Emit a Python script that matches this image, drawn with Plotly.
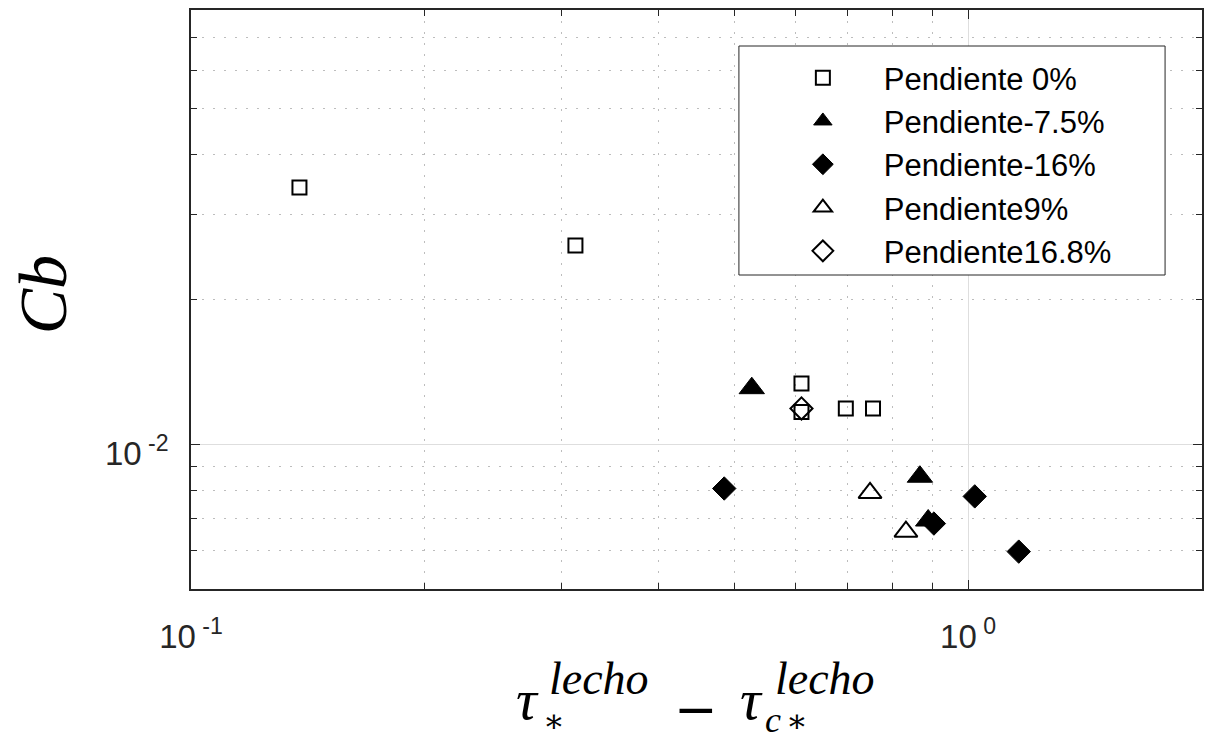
import plotly.graph_objects as go

# Measured points, one list pair per bed slope
sq_x = [0.1379, 0.3124, 0.6104, 0.6104, 0.6961, 0.7545]
sq_y = [0.0342, 0.0259, 0.01338, 0.01167, 0.01187, 0.01187]
tri_x = [0.5268, 0.8670, 0.8885]
tri_y = [0.01308, 0.00856, 0.00694]
dia_x = [0.4855, 0.9037, 1.020, 1.162]
dia_y = [0.00809, 0.00684, 0.00779, 0.00598]
otri_x = [0.7479, 0.8318]
otri_y = [0.00792, 0.00658]
odia_x = [0.6104]
odia_y = [0.01187]

series_names = ["Pendiente 0%", "Pendiente-7.5%", "Pendiente-16%", "Pendiente9%", "Pendiente16.8%"]

x_tick_vals = [0.1, 1]
x_tick_text = ["10<sup>\u00a0-1</sup>", "10<sup>\u00a00</sup>"]
y_tick_vals = [0.01]
y_tick_text = ["10<sup>\u00a0-2</sup>"]
x_minor = [0.2, 0.3, 0.4, 0.5, 0.6, 0.7, 0.8, 0.9, 2]
y_minor = [0.005, 0.006, 0.007, 0.008, 0.009, 0.02, 0.03, 0.04, 0.05, 0.06, 0.07, 0.08]

W, H = 1207, 740
L, R, T, B = 191, 1204, 10, 589
AX = "#262626"


def fx(p):
    return (p - L) / (R - L)


def fy(p):
    return (B - p) / (B - T)


fig = go.Figure()
specs = [
    (sq_x, sq_y, "square-open", 14, 2),
    (tri_x, tri_y, "triangle-up", 22, 1),
    (dia_x, dia_y, "diamond", 18, 1),
    (otri_x, otri_y, "triangle-up-open", 20, 2),
    (odia_x, odia_y, "diamond-open", 17, 2),
]
for i, ((xs, ys, sym, size, lw), name) in enumerate(zip(specs, series_names)):
    fig.add_trace(go.Scatter(
        x=xs, y=ys, mode="markers", name=name, legendgroup=f"g{i}",
        marker=dict(symbol=sym, size=size, color="black",
                    line=dict(color="black", width=lw)),
    ))

axis_common = dict(
    type="log", showline=True, linecolor=AX, linewidth=1.5, mirror="allticks",
    ticks="inside", ticklen=9, tickwidth=1, tickcolor=AX,
    showgrid=True, gridcolor="#dedede", gridwidth=1, zeroline=False,
    tickfont=dict(family="Liberation Sans", size=33, color=AX),
    tickmode="array",
)
fig.update_xaxes(
    **axis_common, range=[-1, 0.30103],
    tickvals=x_tick_vals, ticktext=x_tick_text, ticklabelstandoff=18,
    minor=dict(tickmode="array", tickvals=x_minor, ticks="inside", ticklen=6,
               tickcolor=AX, showgrid=True, gridcolor="#bdbdbd",
               griddash="2px,9px", gridwidth=1),
)
fig.update_yaxes(
    **axis_common, range=[-2.30103, -1.09691],
    tickvals=y_tick_vals, ticktext=y_tick_text, ticklabelstandoff=14,
    ticklabelshift=9,
    minor=dict(tickmode="array", tickvals=y_minor, ticks="inside", ticklen=6,
               tickcolor=AX, showgrid=True, gridcolor="#bdbdbd",
               griddash="2px,9px", gridwidth=1),
)

# Legend frame
fig.add_shape(type="rect", xref="paper", yref="paper",
              x0=fx(740), x1=fx(1167), y0=fy(275), y1=fy(46),
              line=dict(color=AX, width=1), fillcolor="white", layer="above")

serif = "Liberation Serif"
ann = []


def txt(s, x, y, size, family=serif, angle=0):
    ann.append(dict(text=s, x=fx(x), y=fy(y), xref="paper", yref="paper",
                    xanchor="center", yanchor="middle", showarrow=False,
                    textangle=angle, font=dict(family=family, size=size, color="black")))


# x-axis title: tau_*^lecho - tau_{c*}^lecho
txt("<i>τ</i>", 528, 699, 58)
txt("<i>lecho</i>", 600, 678, 46)
txt("∗", 555, 721, 32, family="DejaVu Serif")
txt("−", 697, 709, 52, family="DejaVu Serif")
txt("<i>τ</i>", 753, 699, 58)
txt("<i>lecho</i>", 826, 678, 46)
txt("<i>c</i>", 774, 720, 36)
txt("∗", 798, 721, 32, family="DejaVu Serif")
# y-axis title
txt("<i>Cb</i>", 43, 295, 68, angle=-90)

fig.update_layout(
    width=W, height=H, autosize=False,
    margin=dict(l=L, r=W - R, t=T, b=H - B, pad=0),
    paper_bgcolor="white", plot_bgcolor="white",
    annotations=ann,
    legend=dict(x=fx(763), y=fy(51), xanchor="left", yanchor="top",
                bgcolor="rgba(0,0,0,0)", borderwidth=0,
                font=dict(family="Liberation Sans", size=31, color="black"),
                itemwidth=112, traceorder="grouped", tracegroupgap=0),
)

fig.write_html("out.html")
